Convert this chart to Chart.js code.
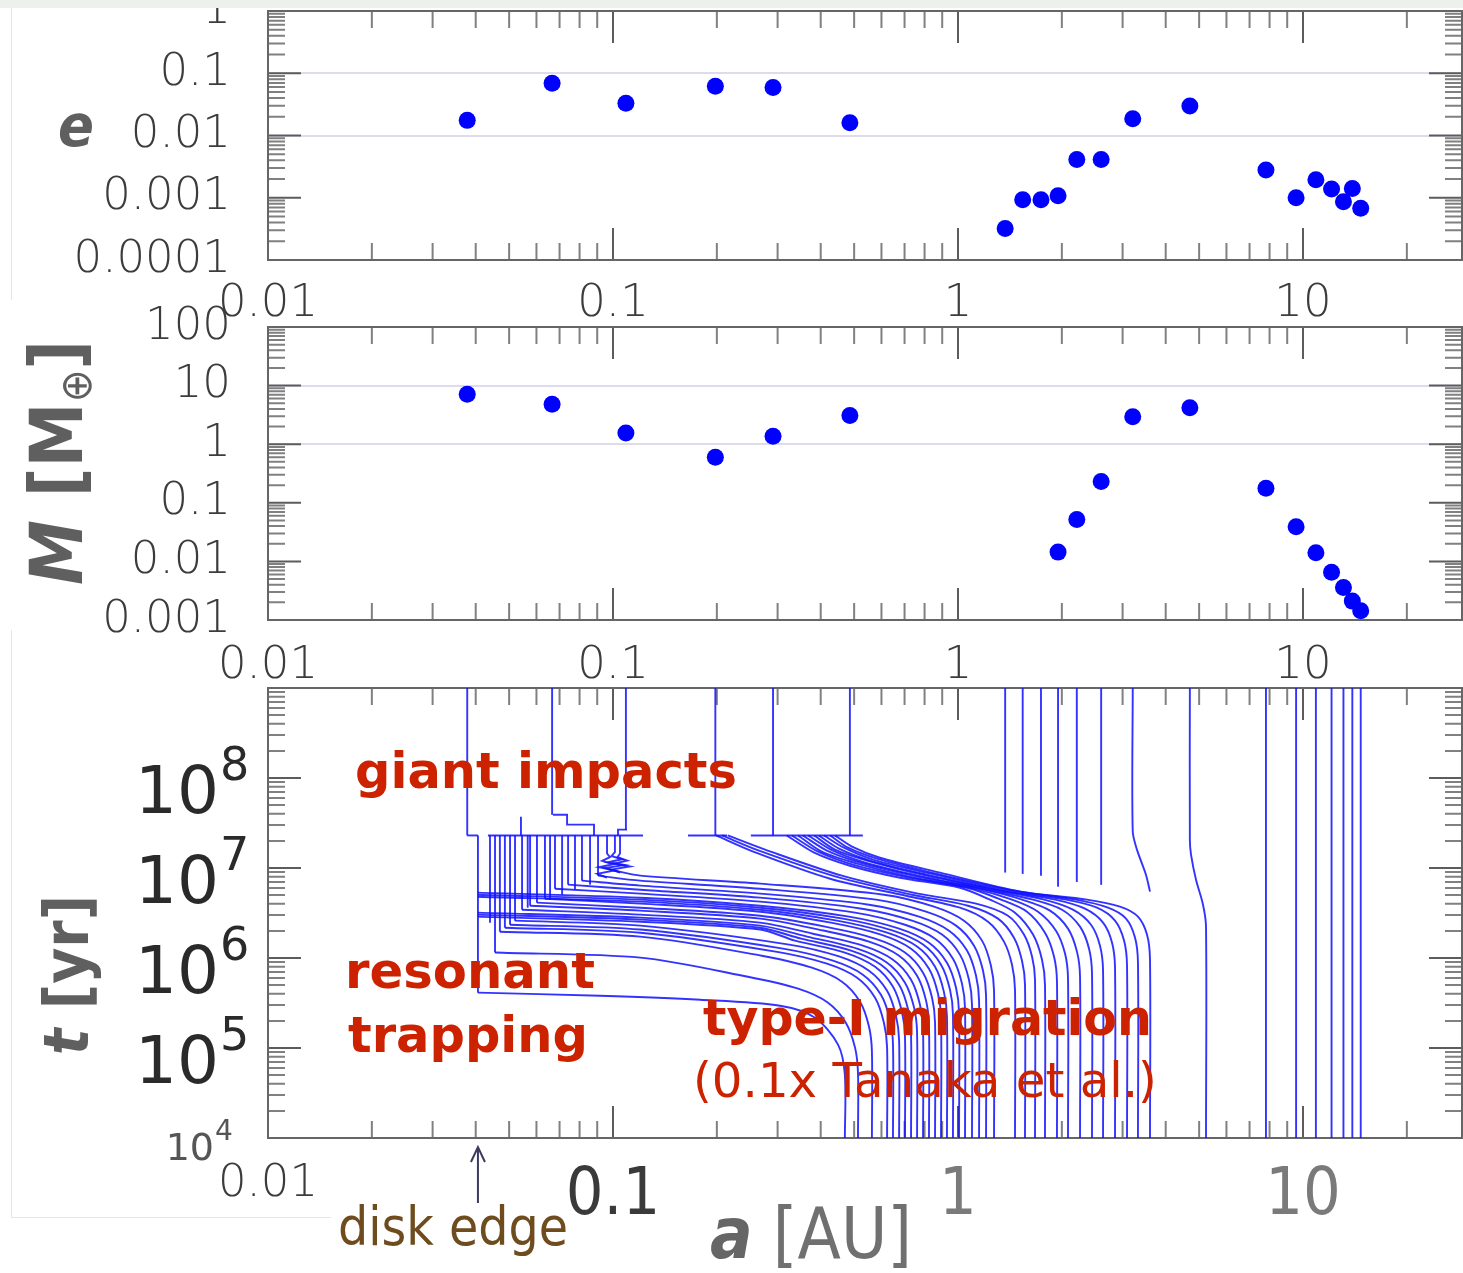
<!DOCTYPE html>
<html lang="en">
<head>
<meta charset="utf-8">
<title>Planet formation: e, M and a(t)</title>
<script src="https://cdn.jsdelivr.net/npm/chart.js@4.4.1/dist/chart.umd.min.js"></script>
<style>
  html, body { margin: 0; padding: 0; background: #fff; }
  body { position: relative; width: 1463px; height: 1273px; overflow: hidden; font-family: "DejaVu Sans", sans-serif; }
  canvas { position: absolute; left: 0; }
  #eChart { top: -69px; }
  #mChart { top: 247px; }
  #tChart { top: 608px; }
  .strip { position: absolute; left: 0; top: 0; width: 1463px; height: 8px; background: #eef0ec; z-index: 5; }
  .rule { position: absolute; background: #e6e6e6; }
  .lbl { position: absolute; white-space: nowrap; line-height: 1; }
  .lbl .probe { display: inline-block; width: 0; height: 0; vertical-align: baseline; }
  .note { color: #cc2200; font-weight: bold; }
  .note.plain { font-weight: normal; }
  .title { color: #5f5f5f; font-weight: bold; font-family: "DejaVu Sans Condensed", "DejaVu Sans", sans-serif; }
  .title sub { font-size: 0.6em; font-weight: normal; vertical-align: -0.2em; }
  #diskEdgeTxt { color: #6e4c1e; font-family: "DejaVu Sans Condensed", "DejaVu Sans", sans-serif; }
  #aTitle { color: #707070; font-weight: normal; font-family: "DejaVu Sans Condensed", "DejaVu Sans", sans-serif; }
  #aTitle i { font-weight: bold; color: #666; }
</style>
</head>
<body>
<div class="strip"></div>
<div class="rule" style="left:11px;top:8px;width:1px;height:292px"></div>
<div class="rule" style="left:11px;top:630px;width:1px;height:588px"></div>
<div class="rule" style="left:11px;top:1217px;width:320px;height:1px"></div>

<canvas id="eChart" width="1463" height="409"></canvas>
<canvas id="mChart" width="1463" height="453"></canvas>
<canvas id="tChart" width="1463" height="610"></canvas>

<div class="lbl title" id="eTitle"><i>e</i><span class="probe"></span></div>
<div class="lbl title" id="mTitle"><i>M</i> [M<sub>⊕</sub>]<span class="probe"></span></div>
<div class="lbl title" id="tTitle"><i>t</i> [yr]<span class="probe"></span></div>
<div class="lbl" id="aTitle"><i>a</i> [AU]<span class="probe"></span></div>
<div class="lbl" id="diskEdgeTxt">disk edge<span class="probe"></span></div>
<div class="lbl note" id="noteGiant">giant impacts<span class="probe"></span></div>
<div class="lbl note" id="noteReso">resonant<span class="probe"></span></div>
<div class="lbl note" id="noteTrap">trapping<span class="probe"></span></div>
<div class="lbl note" id="noteType">type-I migration<span class="probe"></span></div>
<div class="lbl note plain" id="noteTanaka">(0.1x Tanaka et al.)<span class="probe"></span></div>

<script>
// final planets at the end of the run
const aFinal = [0.0378, 0.0666, 0.109, 0.198, 0.291, 0.486, 1.37, 1.54, 1.74, 1.95, 2.21, 2.60, 3.21, 4.70, 7.81, 9.55, 10.9, 12.1, 13.1, 13.9, 14.7];
const eFinal = [0.0175, 0.069, 0.033, 0.062, 0.059, 0.016, 3.2e-4, 9.3e-4, 9.3e-4, 1.08e-3, 4.1e-3, 4.1e-3, 0.0186, 0.0297, 2.8e-3, 1.0e-3, 1.95e-3, 1.38e-3, 8.6e-4, 1.41e-3, 6.8e-4];
// masses in Earth masses, null = below 0.001 (off the panel)
const mFinal = [7.1, 4.8, 1.55, 0.60, 1.37, 3.1, null, null, null, 0.0144, 0.052, 0.23, 2.93, 4.17, 0.177, 0.039, 0.0141, 0.0065, 0.0036, 0.0021, 0.00144];

// axis ranges and labelled ticks
const aMin = 0.01, aMax = 28.9;
const aTicks = [0.01, 0.1, 1, 10];
const eTicks = [1, 0.1, 0.01, 0.001, 0.0001];
const mTicks = [100, 10, 1, 0.1, 0.01, 0.001];
const tExponents = [4, 5, 6, 7, 8];

// orbital evolution, [a (AU), t (yr)]
const tDisk = 2.3e7;      // gas gone, giant impact phase
const diskEdge = 0.0406;  // inner edge of the gas disk

// embryos moving in by type-I migration
const migrationTracks = [
  [[0.470,1e4],[0.470,5.06e4],[0.449,1.09e5],[0.385,2.17e5],[0.305,2.95e5],[0.179,3.44e5],[0.0917,3.81e5],[0.0406,4.12e5]],
  [[0.513,1e4],[0.513,5.32e4],[0.503,1.01e5],[0.473,1.91e5],[0.420,3.19e5],[0.344,4.56e5],[0.246,6.19e5],[0.120,1.01e6],[0.0455,1.15e6]],
  [[0.563,1e4],[0.563,9.10e4],[0.552,1.73e5],[0.520,3.27e5],[0.461,5.46e5],[0.377,7.80e5],[0.270,1.06e6],[0.120,1.73e6],[0.047,1.96e6]],
  [[0.623,1e4],[0.623,1.01e5],[0.610,1.91e5],[0.575,3.62e5],[0.510,6.04e5],[0.417,8.65e5],[0.299,1.17e6],[0.120,1.91e6],[0.0486,2.17e6]],
  [[0.648,1e4],[0.648,1.09e5],[0.635,2.07e5],[0.598,3.91e5],[0.530,6.53e5],[0.434,9.33e5],[0.311,1.27e6],[0.120,2.07e6],[0.0503,2.34e6]],
  [[0.675,1e4],[0.675,1.21e5],[0.661,2.29e5],[0.623,4.33e5],[0.552,7.23e5],[0.452,1.04e6],[0.324,1.41e6],[0.120,2.29e6],[0.052,2.60e6]],
  [[0.702,1e4],[0.702,1.34e5],[0.688,2.53e5],[0.648,4.80e5],[0.575,8.00e5],[0.470,1.15e6],[0.337,1.56e6],[0.267,2.07e6],[0.120,2.53e6],[0.0406,2.88e6]],
  [[0.731,1e4],[0.731,1.41e5],[0.717,2.67e5],[0.675,5.05e5],[0.598,8.43e5],[0.490,1.21e6],[0.351,1.64e6],[0.267,2.17e6],[0.120,2.67e6],[0.0406,3.03e6]],
  [[0.761,1e4],[0.761,1.48e5],[0.746,2.81e5],[0.702,5.32e5],[0.623,8.87e5],[0.510,1.27e6],[0.365,1.73e6],[0.267,2.29e6],[0.120,2.81e6],[0.0406,3.19e6]],
  [[0.792,1e4],[0.792,1.60e5],[0.776,3.03e5],[0.731,5.74e5],[0.648,9.58e5],[0.530,1.37e6],[0.380,1.86e6],[0.267,2.47e6],[0.120,3.03e6],[0.0545,3.44e6]],
  [[0.824,1e4],[0.824,1.77e5],[0.808,3.36e5],[0.761,6.36e5],[0.675,1.06e6],[0.552,1.52e6],[0.395,2.07e6],[0.267,2.74e6],[0.120,3.36e6],[0.0575,3.81e6]],
  [[0.858,1e4],[0.858,1.91e5],[0.841,3.62e5],[0.792,6.87e5],[0.702,1.15e6],[0.575,1.64e6],[0.412,2.23e6],[0.267,2.95e6],[0.120,3.62e6],[0.0602,4.12e6]],
  [[0.893,1e4],[0.893,2.12e5],[0.875,4.01e5],[0.824,7.60e5],[0.731,1.27e6],[0.598,1.82e6],[0.428,2.47e6],[0.267,3.27e6],[0.120,4.02e6],[0.0635,4.56e6]],
  [[0.929,1e4],[0.929,2.23e5],[0.910,4.23e5],[0.858,8.00e5],[0.761,1.34e6],[0.623,1.91e6],[0.446,2.60e6],[0.267,3.44e6],[0.120,4.23e6],[0.0406,4.80e6]],
  [[0.967,1e4],[0.967,2.34e5],[0.948,4.45e5],[0.893,8.43e5],[0.792,1.41e6],[0.648,2.01e6],[0.464,2.74e6],[0.267,3.62e6],[0.120,4.45e6],[0.0406,5.05e6]],
  [[1.007,1e4],[1.007,2.47e5],[0.987,4.68e5],[0.929,8.87e5],[0.824,1.48e6],[0.675,2.12e6],[0.483,2.88e6],[0.267,3.81e6],[0.120,4.68e6],[0.0406,5.32e6]],
  [[1.048,1e4],[1.048,2.74e5],[1.027,5.19e5],[0.967,9.83e5],[0.858,1.64e6],[0.702,2.34e6],[0.503,3.19e6],[0.267,4.23e6],[0.120,5.19e6],[0.0679,5.89e6]],
  [[1.098,1e4],[1.098,3.03e5],[1.076,5.74e5],[1.013,1.09e6],[0.899,1.82e6],[0.736,2.60e6],[0.527,3.53e6],[0.267,4.68e6],[0.120,5.74e6],[0.0741,6.53e6]],
  [[1.151,1e4],[1.151,3.36e5],[1.128,6.36e5],[1.062,1.21e6],[0.942,2.01e6],[0.771,2.88e6],[0.552,3.91e6],[0.267,5.19e6],[0.120,6.37e6],[0.0813,7.23e6]],
  [[1.206,1e4],[1.206,3.81e5],[1.182,7.23e5],[1.113,1.37e6],[0.987,2.29e6],[0.808,3.27e6],[0.579,4.45e6],[0.267,5.89e6],[0.120,7.23e6],[0.0905,8.22e6]],
  [[1.272,1e4],[1.272,4.33e5],[1.246,8.22e5],[1.174,1.56e6],[1.041,2.60e6],[0.852,3.72e6],[0.610,5.05e6],[0.267,6.70e6],[0.120,8.22e6],[0.1013,9.33e6]],
  // late ones, still moving when the gas goes away
  [[1.463,1e4],[1.463,4.45e5],[1.434,8.43e5],[1.359,1.52e6],[1.222,2.53e6],[1.013,3.62e6],[0.707,4.92e6],[0.426,7.60e6],[0.255,1.52e7],[0.199,2.3e7]],
  [[1.564,1e4],[1.564,5.05e5],[1.533,9.33e5],[1.453,1.68e6],[1.306,2.74e6],[1.069,3.81e6],[0.736,5.05e6],[0.443,8.02e6],[0.265,1.56e7],[0.207,2.3e7]],
  [[1.672,1e4],[1.672,5.74e5],[1.639,1.04e6],[1.553,1.82e6],[1.396,2.95e6],[1.128,4.02e6],[0.766,5.19e6],[0.461,8.22e6],[0.276,1.60e7],[0.215,2.3e7]],
  [[1.787,1e4],[1.787,5.05e5],[1.752,9.58e5],[1.650,1.82e6],[1.463,3.19e6],[1.238,4.45e6],[1.013,6.04e6],[0.679,7.80e6],[0.486,1.06e7],[0.383,1.48e7],[0.319,2.3e7]],
  [[1.936,1e4],[1.936,5.46e5],[1.898,1.04e6],[1.787,1.91e6],[1.585,3.27e6],[1.332,4.45e6],[1.062,6.04e6],[0.697,8.02e6],[0.496,1.09e7],[0.393,1.52e7],[0.330,2.3e7]],
  [[2.084,1e4],[2.084,5.89e5],[2.043,1.12e6],[1.923,2.01e6],[1.706,3.27e6],[1.434,4.45e6],[1.113,5.89e6],[0.721,8.02e6],[0.510,1.12e7],[0.403,1.52e7],[0.344,2.3e7]],
  [[2.258,1e4],[2.258,6.19e5],[2.213,1.17e6],[2.084,2.12e6],[1.848,3.36e6],[1.533,4.45e6],[1.158,5.89e6],[0.741,8.22e6],[0.520,1.15e7],[0.417,1.56e7],[0.355,2.3e7]],
  [[2.446,1e4],[2.446,6.70e5],[2.398,1.27e6],[2.258,2.23e6],[2.003,3.44e6],[1.650,4.45e6],[1.214,5.74e6],[0.766,8.22e6],[0.530,1.17e7],[0.428,1.60e7],[0.368,2.3e7]],
  [[2.633,1e4],[2.633,7.23e5],[2.580,1.37e6],[2.430,2.34e6],[2.154,3.44e6],[1.776,4.45e6],[1.272,5.74e6],[0.787,8.43e6],[0.545,1.21e7],[0.440,1.60e7],[0.383,2.3e7]],
  [[2.852,1e4],[2.852,7.80e5],[2.796,1.48e6],[2.633,2.47e6],[2.334,3.53e6],[1.911,4.45e6],[1.332,5.60e6],[0.813,8.43e6],[0.556,1.21e7],[0.452,1.64e7],[0.395,2.3e7]],
  [[3.090,1e4],[3.090,8.22e5],[3.029,1.56e6],[2.852,2.60e6],[2.529,3.62e6],[2.056,4.45e6],[1.387,5.60e6],[0.835,8.65e6],[0.567,1.24e7],[0.467,1.68e7],[0.409,2.3e7]],
  [[3.324,1e4],[3.324,8.87e5],[3.260,1.68e6],[3.069,2.74e6],[2.722,3.62e6],[2.198,4.45e6],[1.453,5.60e6],[0.863,8.65e6],[0.582,1.27e7],[0.480,1.68e7],[0.426,2.3e7]],
  [[3.602,1e4],[3.602,9.58e5],[3.530,1.82e6],[3.324,2.88e6],[2.948,3.72e6],[2.366,4.45e6],[1.523,5.46e6],[0.887,8.87e6],[0.594,1.30e7],[0.493,1.73e7],[0.440,2.3e7]]
];

// outer planets that only drift a little before settling
const driftTracks = [
  [[3.602,5.46e6],[3.506,8.43e6],[3.302,1.60e7],[3.21,2.54e7],[3.21,1e9]],
  [[5.235,1e4],[5.235,2.23e6],[5.131,3.91e6],[4.897,7.41e6],[4.736,1.41e7],[4.70,2.06e7],[4.70,1e9]]
];

// captured in the resonant chain at the disk edge: [a, time of capture], held until tDisk
const chainStart = [
  [0.0406,4.12e5],[0.0440,2.47e6],[0.0455,1.15e6],[0.047,1.96e6],[0.0486,2.17e6],[0.0503,2.34e6],
  [0.052,2.60e6],[0.0545,3.44e6],[0.0566,3.62e6],[0.0575,3.81e6],[0.0602,4.12e6],[0.0635,4.56e6],
  [0.0657,4.45e6],[0.0679,5.89e6],[0.0712,5.05e6],[0.0741,6.53e6],[0.0776,5.74e6],[0.0813,7.23e6],
  [0.0858,6.53e6],[0.0905,8.22e6]
];
// outer end of the chain, where orbits keep shaking before settling
const chainWobble = [
  [[0.0961,7.80e6],[0.090,8.6e6],[0.101,9.4e6],[0.091,1.02e7],[0.100,1.10e7],[0.093,1.20e7],[0.098,1.32e7],[0.0961,1.45e7],[0.0961,2.3e7]],
  [[0.1013,9.33e6],[0.095,1.00e7],[0.108,1.08e7],[0.097,1.16e7],[0.106,1.25e7],[0.099,1.36e7],[0.1013,1.50e7],[0.1013,2.3e7]],
  [[0.1048,8.87e6],[0.099,9.6e6],[0.112,1.04e7],[0.101,1.12e7],[0.110,1.21e7],[0.103,1.32e7],[0.1048,1.45e7],[0.1048,2.3e7]]
];

// time from which each final orbit is drawn straight up (null: drawn by a drift track)
const finalStart = [2.3e7, 3.9e7, 2.67e7, 2.3e7, 2.3e7, 2.3e7, 8.9e6, 8.6e6, 8.2e6, 6.2e6, 7.0e6, 6.5e6, null, null, 1e4, 1e4, 1e4, 1e4, 1e4, 1e4, 1e4];

// mergers at the end of the gas phase: [a inner, a outer] joined at tDisk
const impactBridges = [[0.0378, 0.0406], [0.0434, 0.1222], [0.165, 0.214], [0.251, 0.53]];
// small steps from later collisions in the inner system
const impactSteps = [
  [[0.067,3.9e7],[0.0736,3.9e7],[0.0736,3.03e7],[0.0881,3.03e7],[0.0881,2.3e7]],
  [[0.1098,2.67e7],[0.1034,2.67e7],[0.1034,2.3e7]],
  [[0.0541,3.72e7],[0.0541,2.3e7]]
];

const tMax = 1e9;
const blue = 'rgba(15,15,255,0.85)';
const lineWidth = 1.9;
const thinFont = { family: '"DejaVu Sans"', size: 45, weight: '200' };

function sameValue(a, b) {
  return Math.abs(Math.log10(a) - Math.log10(b)) < 1e-6;
}

// 1..9 x 10^n ticks between min and max, powers of ten flagged major
function logTicks(min, max) {
  const out = [];
  for (let d = Math.floor(Math.log10(min)); d <= Math.ceil(Math.log10(max)); d++) {
    for (let m = 1; m <= 9; m++) {
      const v = m * Math.pow(10, d);
      if (v >= min * 0.999 && v <= max * 1.001) out.push({ value: v, major: m === 1 });
    }
  }
  return out;
}

function labelFrom(list) {
  return v => {
    const hit = list.find(l => sameValue(l, v));
    return hit === undefined ? '' : String(hit);
  };
}

// frame and inward tick marks on all four sides
const frameTicks = {
  id: 'frameTicks',
  beforeDatasetsDraw(chart) {
    const { ctx, chartArea: ca, scales } = chart;
    ctx.save();
    ctx.lineWidth = 2;
    scales.x.ticks.forEach(t => {
      const px = scales.x.getPixelForValue(t.value);
      const len = t.major ? 32 : 17;
      ctx.strokeStyle = t.major ? '#5c5c5c' : '#808080';
      ctx.beginPath();
      ctx.moveTo(px, ca.bottom); ctx.lineTo(px, ca.bottom - len);
      ctx.moveTo(px, ca.top); ctx.lineTo(px, ca.top + len);
      ctx.stroke();
    });
    scales.y.ticks.forEach(t => {
      const py = scales.y.getPixelForValue(t.value);
      const len = t.major ? 33 : 17;
      ctx.strokeStyle = t.major ? '#5c5c5c' : '#808080';
      ctx.beginPath();
      ctx.moveTo(ca.left, py); ctx.lineTo(ca.left + len, py);
      ctx.moveTo(ca.right, py); ctx.lineTo(ca.right - len, py);
      ctx.stroke();
    });
    ctx.strokeStyle = '#666';
    ctx.strokeRect(ca.left, ca.top, ca.right - ca.left, ca.bottom - ca.top);
    ctx.restore();
  }
};

// 10^n labels for the time axis and the disk edge arrow
const timeLabels = {
  id: 'timeLabels',
  afterDraw(chart) {
    const { ctx, chartArea: ca, scales: { x, y } } = chart;
    ctx.save();
    ctx.textBaseline = 'alphabetic';
    tExponents.forEach((n, i) => {
      const py = y.getPixelForValue(Math.pow(10, n));
      const small = i === 0;
      const xr = small ? 214 : 219;
      ctx.fillStyle = small ? '#555' : '#2a2a2a';
      ctx.textAlign = 'right';
      ctx.font = (small ? '38px' : '66px') + ' "DejaVu Sans"';
      ctx.fillText('10', xr, py + (small ? 22 : 35));
      ctx.textAlign = 'left';
      ctx.font = (small ? '28px' : '46px') + ' "DejaVu Sans"';
      ctx.fillText(String(n), xr + 1, py + 2);
    });
    const ex = x.getPixelForValue(diskEdge);
    const tip = ca.bottom + 9;
    ctx.strokeStyle = '#3b3b62';
    ctx.lineWidth = 2;
    ctx.beginPath();
    ctx.moveTo(ex, tip + 56); ctx.lineTo(ex, tip);
    ctx.moveTo(ex - 7, tip + 15); ctx.lineTo(ex, tip); ctx.lineTo(ex + 7, tip + 15);
    ctx.stroke();
    ctx.restore();
  }
};

function xAxis(padding, font, color) {
  return {
    type: 'logarithmic', min: aMin, max: aMax, position: 'bottom',
    afterBuildTicks: s => { s.ticks = logTicks(aMin, aMax); },
    afterFit: s => { s.height = 80; },
    border: { display: false },
    grid: { display: false, drawTicks: false },
    ticks: { autoSkip: false, maxRotation: 0, padding, font, color, callback: labelFrom(aTicks) }
  };
}

function yAxis(min, max, labels, gridAt) {
  return {
    type: 'logarithmic', min, max,
    afterBuildTicks: s => { s.ticks = logTicks(min, max); },
    afterFit: s => { s.width = 268; },
    border: { display: false },
    grid: {
      drawTicks: false, lineWidth: 2,
      color: c => (c.tick && gridAt.some(g => sameValue(g, c.tick.value))) ? '#dcdcee' : 'rgba(0,0,0,0)'
    },
    ticks: {
      display: labels !== null, autoSkip: false, padding: 37, font: thinFont, color: '#3c3c3c',
      callback: labelFrom(labels || [])
    }
  };
}

function baseOptions(scales) {
  return {
    responsive: false, animation: false, devicePixelRatio: 1, events: [],
    layout: { autoPadding: false, padding: { top: 80, right: 1, left: 0, bottom: 0 } },
    plugins: { legend: { display: false }, tooltip: { enabled: false } },
    scales
  };
}

function dots(values) {
  return [{
    data: aFinal.map((a, i) => ({ x: a, y: values[i] })),
    pointRadius: 8.5, backgroundColor: '#0000ff', borderWidth: 0, clip: false
  }];
}

new Chart(document.getElementById('eChart'), {
  type: 'scatter',
  data: { datasets: dots(eFinal) },
  options: baseOptions({ x: xAxis(17, thinFont, '#3c3c3c'), y: yAxis(1e-4, 1, eTicks, [0.1, 0.01]) }),
  plugins: [frameTicks]
});

new Chart(document.getElementById('mChart'), {
  type: 'scatter',
  data: { datasets: dots(mFinal) },
  options: baseOptions({ x: xAxis(19, thinFont, '#3c3c3c'), y: yAxis(1e-3, 100, mTicks, [10, 1]) }),
  plugins: [frameTicks]
});

// time panel: curved migration paths, straight segments for the rest
const toXY = pts => pts.map(([a, t]) => ({ x: a, y: t }));
const curve = pts => ({ data: toXY(pts), borderColor: blue, borderWidth: lineWidth, pointRadius: 0, tension: 0.3, fill: false });
const straight = pts => ({ data: toXY(pts), borderColor: blue, borderWidth: lineWidth, pointRadius: 0, tension: 0, fill: false });

const timeSets = [
  ...migrationTracks.map(curve),
  ...driftTracks.map(curve),
  ...chainStart.map(([a, t]) => straight([[a, t], [a, tDisk]])),
  ...chainWobble.map(straight),
  ...impactBridges.map(([a1, a2]) => straight([[a1, tDisk], [a2, tDisk]])),
  ...impactSteps.map(straight),
  ...aFinal.map((a, i) => finalStart[i] === null ? null : straight([[a, finalStart[i]], [a, tMax]])).filter(Boolean)
];

const bigTick = { family: '"DejaVu Sans Condensed"', size: 66, weight: 'normal' };
new Chart(document.getElementById('tChart'), {
  type: 'line',
  data: { datasets: timeSets },
  options: baseOptions({
    x: xAxis(19,
      c => (c.tick && sameValue(c.tick.value, 0.01)) ? thinFont : bigTick,
      c => (c.tick && sameValue(c.tick.value, 0.1)) ? '#3a3a3a' : (c.tick && sameValue(c.tick.value, 0.01) ? '#3c3c3c' : '#7a7a7a')),
    y: yAxis(1e4, tMax, null, [])
  }),
  plugins: [frameTicks, timeLabels]
});

// text placement: scale each label to its width, then put its baseline in place
const textBoxes = [
  { id: 'noteGiant', x: 355, w: 382, base: 788 },
  { id: 'noteReso', x: 345, w: 250, base: 988 },
  { id: 'noteTrap', x: 348, w: 240, base: 1052 },
  { id: 'noteType', x: 703, w: 449, base: 1035 },
  { id: 'noteTanaka', x: 693, w: 464, base: 1097 },
  { id: 'diskEdgeTxt', x: 338, w: 230, base: 1245 },
  { id: 'aTitle', x: 710, w: 202, base: 1258 },
  { id: 'eTitle', x: 58, w: 36, base: 146 },
  { id: 'mTitle', y: 585, w: 245, base: 82, rot: true },
  { id: 'tTitle', y: 1055, w: 160, base: 88, rot: true }
];

function placeText(box) {
  const el = document.getElementById(box.id);
  el.style.fontSize = '100px';
  const w = el.getBoundingClientRect().width;
  const fs = 100 * box.w / w;
  el.style.fontSize = fs.toFixed(2) + 'px';
  const baseOffset = el.querySelector('.probe').offsetTop;
  if (box.rot) {
    el.style.left = (box.base - baseOffset) + 'px';
    el.style.top = box.y + 'px';
    el.style.transformOrigin = '0 0';
    el.style.transform = 'rotate(-90deg)';
  } else {
    el.style.left = box.x + 'px';
    el.style.top = (box.base - baseOffset) + 'px';
  }
}
textBoxes.forEach(placeText);
</script>
</body>
</html>
